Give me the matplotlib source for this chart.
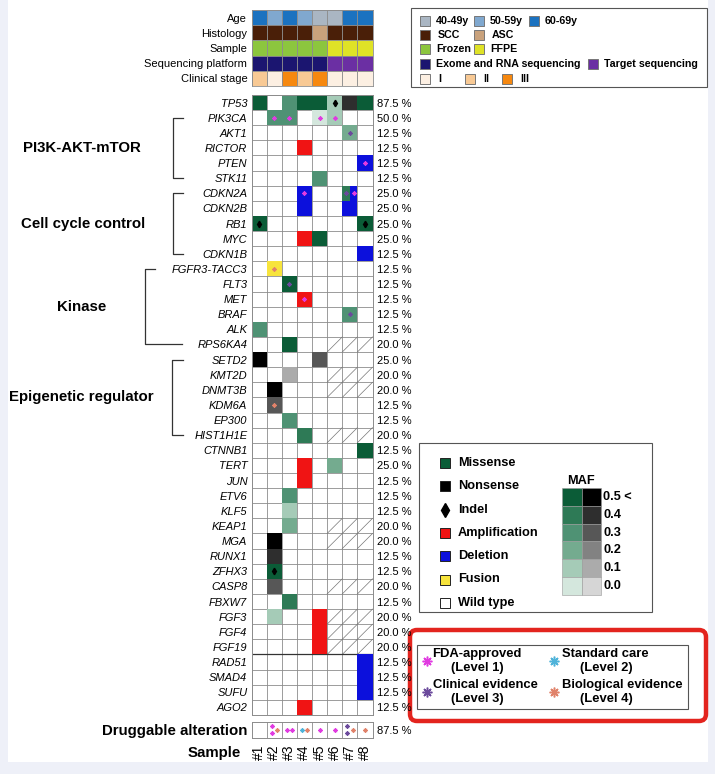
import numpy as np
import matplotlib
matplotlib.use('Agg')
import matplotlib.pyplot as plt
from matplotlib.patches import Rectangle, FancyBboxPatch
from collections import defaultdict

plt.rcParams['font.family'] = ['Liberation Sans', 'DejaVu Sans']

# ---- data ----
samples = ['#1', '#2', '#3', '#4', '#5', '#6', '#7', '#8']
age = ['60-69y', '50-59y', '60-69y', '50-59y', '40-49y', '40-49y', '60-69y', '60-69y']
histology = ['SCC', 'SCC', 'SCC', 'SCC', 'ASC', 'SCC', 'SCC', 'SCC']
sample_type = ['Frozen', 'Frozen', 'Frozen', 'Frozen', 'Frozen', 'FFPE', 'FFPE', 'FFPE']
platform = ['Exome and RNA sequencing'] * 5 + ['Target sequencing'] * 3
stage = ['II', 'I', 'III', 'II', 'III', 'I', 'I', 'I']
ann_names = ['Age', 'Histology', 'Sample', 'Sequencing platform', 'Clinical stage']

genes = ['TP53', 'PIK3CA', 'AKT1', 'RICTOR', 'PTEN', 'STK11', 'CDKN2A', 'CDKN2B', 'RB1',
         'MYC', 'CDKN1B', 'FGFR3-TACC3', 'FLT3', 'MET', 'BRAF', 'ALK', 'RPS6KA4', 'SETD2',
         'KMT2D', 'DNMT3B', 'KDM6A', 'EP300', 'HIST1H1E', 'CTNNB1', 'TERT', 'JUN', 'ETV6',
         'KLF5', 'KEAP1', 'MGA', 'RUNX1', 'ZFHX3', 'CASP8', 'FBXW7', 'FGF3', 'FGF4', 'FGF19',
         'RAD51', 'SMAD4', 'SUFU', 'AGO2']
freq = ['87.5', '50.0', '12.5', '12.5', '12.5', '12.5', '25.0', '25.0', '25.0', '25.0', '12.5',
        '12.5', '12.5', '12.5', '12.5', '12.5', '20.0', '25.0', '20.0', '20.0', '12.5', '12.5',
        '20.0', '12.5', '25.0', '12.5', '12.5', '12.5', '20.0', '20.0', '12.5', '12.5', '20.0',
        '12.5', '20.0', '20.0', '20.0', '12.5', '12.5', '12.5', '12.5']

# (gene, sample, kind, MAF, drug level)
alterations = [
    ('TP53', 1, 'mis', 0.5, 0), ('TP53', 3, 'mis', 0.3, 0), ('TP53', 4, 'mis', 0.5, 0),
    ('TP53', 5, 'mis', 0.5, 0), ('TP53', 6, 'indel', 0.1, 0), ('TP53', 7, 'non', 0.4, 0),
    ('TP53', 8, 'mis', 0.5, 0),
    ('PIK3CA', 2, 'mis', 0.3, 1), ('PIK3CA', 3, 'mis', 0.3, 1), ('PIK3CA', 5, 'mis', 0.0, 1),
    ('PIK3CA', 6, 'mis', 0.1, 1),
    ('AKT1', 7, 'mis', 0.2, 3), ('RICTOR', 4, 'amp', 0, 0), ('PTEN', 8, 'del', 0, 1),
    ('STK11', 5, 'mis', 0.3, 0),
    ('CDKN2A', 4, 'del', 0, 1), ('CDKN2A', 7, 'mis', 0.4, 3), ('CDKN2A', 7, 'del', 0, 1),
    ('CDKN2B', 4, 'del', 0, 0), ('CDKN2B', 7, 'del', 0, 0),
    ('RB1', 1, 'indel', 0.5, 0), ('RB1', 8, 'indel', 0.5, 0),
    ('MYC', 4, 'amp', 0, 0), ('MYC', 5, 'mis', 0.5, 0), ('CDKN1B', 8, 'del', 0, 0),
    ('FGFR3-TACC3', 2, 'fus', 0, 4), ('FLT3', 3, 'mis', 0.5, 3), ('MET', 4, 'amp', 0, 1),
    ('BRAF', 7, 'mis', 0.3, 3), ('ALK', 1, 'mis', 0.3, 0), ('RPS6KA4', 3, 'mis', 0.5, 0),
    ('SETD2', 1, 'non', 0.5, 0), ('SETD2', 5, 'non', 0.3, 0), ('KMT2D', 3, 'non', 0.1, 0),
    ('DNMT3B', 2, 'non', 0.5, 0), ('KDM6A', 2, 'non', 0.3, 4), ('EP300', 3, 'mis', 0.3, 0),
    ('HIST1H1E', 4, 'mis', 0.4, 0), ('CTNNB1', 8, 'mis', 0.5, 0),
    ('TERT', 4, 'amp', 0, 0), ('TERT', 6, 'mis', 0.2, 0), ('JUN', 4, 'amp', 0, 0),
    ('ETV6', 3, 'mis', 0.3, 0), ('KLF5', 3, 'mis', 0.1, 0), ('KEAP1', 3, 'mis', 0.2, 0),
    ('MGA', 2, 'non', 0.5, 0), ('RUNX1', 2, 'non', 0.4, 0), ('ZFHX3', 2, 'indel', 0.5, 0),
    ('CASP8', 2, 'non', 0.3, 0), ('FBXW7', 3, 'mis', 0.4, 0),
    ('FGF3', 2, 'mis', 0.1, 0), ('FGF3', 5, 'amp', 0, 0), ('FGF4', 5, 'amp', 0, 0),
    ('FGF19', 5, 'amp', 0, 0), ('RAD51', 8, 'del', 0, 0), ('SMAD4', 8, 'del', 0, 0),
    ('SUFU', 8, 'del', 0, 0), ('AGO2', 4, 'amp', 0, 0),
]
na_genes = ['RPS6KA4', 'KMT2D', 'DNMT3B', 'HIST1H1E', 'KEAP1', 'MGA', 'CASP8', 'FGF3', 'FGF4', 'FGF19']
na_samples = [6, 7, 8]

drug_levels = [[], [1, 1, 4], [1, 1], [2, 4], [1], [1], [3, 3, 4], [4]]
drug_freq = '87.5'

maf_ticks = ['0.5 <', '0.4', '0.3', '0.2', '0.1', '0.0']

# ---- colours ----
ann_colors = {
    '40-49y': '#aab6c3', '50-59y': '#80a8cf', '60-69y': '#1b72c0',
    'SCC': '#4a1f08', 'ASC': '#c9a27c',
    'Frozen': '#8cc63e', 'FFPE': '#dfe226',
    'Exome and RNA sequencing': '#1b1570', 'Target sequencing': '#6b2fa3',
    'I': '#fcefe2', 'II': '#f8c994', 'III': '#f6880f',
}
green_maf = ['#d4e7dd', '#a5cbb7', '#74ab8f', '#4f9274', '#2e7a56', '#0b5c37']
gray_maf = ['#d6d6d6', '#ababab', '#828282', '#575757', '#2e2e2e', '#000000']
kind_colors = {'amp': '#f01414', 'del': '#0c10dc', 'fus': '#f7e43c'}
level_colors = {1: '#e03be0', 2: '#4fb3d9', 3: '#6b4a9c', 4: '#e0826a'}
grid_c = '#8c8c8c'


def cell_color(kind, maf):
    if kind in kind_colors:
        return kind_colors[kind]
    idx = min(int(round(maf * 10)), 5)
    return gray_maf[idx] if kind == 'non' else green_maf[idx]


# ---- layout (pixels) ----
W, H = 715, 774
GX0, GX1 = 251.5, 372.5
ANN_Y0, ANN_Y1 = 10, 86
GENE_Y0, ROW_H = 95, 15.12
DRUG_Y0, DRUG_Y1 = 722, 737.5


def frac(x0, y0, x1, y1):
    return [x0 / W, 1 - y1 / H, (x1 - x0) / W, (y1 - y0) / H]


def row_y(g):
    return GENE_Y0 + (genes.index(g) + 0.5) * ROW_H


fig = plt.figure(figsize=(W / 100, H / 100), dpi=100)
fig.patch.set_facecolor('#eef0f8')
ov = fig.add_axes([0, 0, 1, 1])
ov.set_xlim(0, W)
ov.set_ylim(H, 0)
ov.axis('off')
ov.add_patch(Rectangle((8, 0), 700, 762, fc='white', ec='none', zorder=0))

# ---- annotation tracks ----
ax_a = fig.add_axes(frac(GX0, ANN_Y0, GX1, ANN_Y1))
ax_a.set_xlim(0, 8)
ax_a.set_ylim(5, 0)
for r, track in enumerate([age, histology, sample_type, platform, stage]):
    for c, v in enumerate(track):
        ax_a.add_patch(Rectangle((c, r), 1, 1, fc=ann_colors[v], ec=grid_c, lw=0.6))
ax_a.set_xticks([])
ax_a.set_yticks(np.arange(5) + 0.5)
ax_a.set_yticklabels(ann_names, fontsize=8)
ax_a.tick_params(length=0, pad=3)
for s in ax_a.spines.values():
    s.set_color(grid_c)
    s.set_linewidth(0.6)

# ---- main oncoprint ----
n = len(genes)
ax = fig.add_axes(frac(GX0, GENE_Y0, GX1, GENE_Y0 + n * ROW_H))
ax.set_xlim(0, 8)
ax.set_ylim(n, 0)
for v in range(9):
    ax.axvline(v, color=grid_c, lw=0.6, zorder=1)
for h in range(n + 1):
    ax.axhline(h, color=grid_c, lw=0.6, zorder=1)
ax.axhline(genes.index('RAD51'), color='#333333', lw=0.9, zorder=1.5)

for g in na_genes:
    r = genes.index(g)
    for s in na_samples:
        ax.plot([s - 1, s], [r + 1, r], color='#777777', lw=0.5, zorder=1)

cells = defaultdict(list)
for g, s, kind, maf, lvl in alterations:
    cells[(g, s)].append((kind, maf, lvl))
for (g, s), items in cells.items():
    r = genes.index(g)
    w = 1 / len(items)
    for k, (kind, maf, lvl) in enumerate(items):
        x = s - 1 + k * w
        ax.add_patch(Rectangle((x, r), w, 1, fc=cell_color(kind, maf), ec='none', zorder=2))
        if kind == 'indel':
            ax.plot(x + w / 2, r + 0.5, marker='d', color='black', ms=3.3, zorder=3)
        if lvl:
            ax.plot(x + w / 2, r + 0.5, marker=(8, 2, 0), color=level_colors[lvl],
                    ms=3.2, mew=0.6, zorder=3)

ax.set_xticks([])
ax.set_yticks(np.arange(n) + 0.5)
ax.set_yticklabels(genes, fontsize=8, style='italic')
ax.tick_params(length=0, pad=3)
axr = ax.twinx()
axr.set_ylim(n, 0)
axr.set_yticks(np.arange(n) + 0.5)
axr.set_yticklabels([f + ' %' for f in freq], fontsize=8)
axr.tick_params(length=0, pad=3.5)
for a in (ax, axr):
    for s in a.spines.values():
        s.set_color(grid_c)
        s.set_linewidth(0.6)

# ---- druggable alteration row ----
ax_d = fig.add_axes(frac(GX0, DRUG_Y0, GX1, DRUG_Y1))
ax_d.set_xlim(0, 8)
ax_d.set_ylim(1, 0)
for v in range(1, 8):
    ax_d.axvline(v, color=grid_c, lw=0.6)
offsets = {1: [(0.5, 0.5)], 2: [(0.33, 0.5), (0.7, 0.5)],
           3: [(0.33, 0.28), (0.33, 0.72), (0.7, 0.5)]}
for c, lv in enumerate(drug_levels):
    for (dx, dy), l in zip(offsets.get(len(lv), []), lv):
        ax_d.plot(c + dx, dy, marker=(8, 2, 0), color=level_colors[l], ms=3.3, mew=0.6)
ax_d.set_xticks(np.arange(8) + 0.5)
ax_d.set_xticklabels(samples, rotation=90, fontsize=10)
ax_d.set_yticks([0.5])
ax_d.set_yticklabels(['Druggable alteration'], fontsize=10.8, fontweight='bold')
ax_d.tick_params(axis='y', length=0, pad=3)
ax_d.tick_params(axis='x', length=0, pad=5)
axdr = ax_d.twinx()
axdr.set_ylim(1, 0)
axdr.set_yticks([0.5])
axdr.set_yticklabels([drug_freq + ' %'], fontsize=8)
axdr.tick_params(length=0, pad=3.5)
for a in (ax_d, axdr):
    for s in a.spines.values():
        s.set_color(grid_c)
        s.set_linewidth(0.6)
ov.text(241, 753, 'Sample', ha='right', va='center', fontsize=10.8, fontweight='bold')

# ---- pathway brackets ----
groups = [('PI3K-AKT-mTOR', 'PIK3CA', 'STK11', 173, 183, 183, 82),
          ('Cell cycle control', 'CDKN2A', 'CDKN1B', 173, 183, 183, 83),
          ('Kinase', 'FGFR3-TACC3', 'RPS6KA4', 145, 155, 182, 82),
          ('Epigenetic regulator', 'SETD2', 'HIST1H1E', 172, 183, 183, 81)]
for name, g0, g1, xv, xt0, xt1, xl in groups:
    y0, y1 = row_y(g0), row_y(g1)
    ov.plot([xt0, xv, xv, xt1], [y0, y0, y1, y1], color='#333333', lw=0.9)
    ov.text(xl, (y0 + y1) / 2, name, ha='center', va='center', fontsize=10.8, fontweight='bold')

# ---- legend 1: clinical annotations ----
ov.add_patch(Rectangle((411, 8), 296, 79, fc='white', ec='#555555', lw=0.8))
leg1 = [(21, [('40-49y', 420), ('50-59y', 474), ('60-69y', 529)]),
        (35, [('SCC', 420), ('ASC', 474)]),
        (49, [('Frozen', 420), ('FFPE', 474)]),
        (64, [('Exome and RNA sequencing', 420), ('Target sequencing', 588)]),
        (79, [('I', 420), ('II', 465), ('III', 502)])]
for y, items in leg1:
    for lab, x in items:
        ov.add_patch(Rectangle((x, y - 5), 10, 10, fc=ann_colors[lab], ec='#777777', lw=0.7))
        ov.text(x + 16 if len(lab) > 3 else x + 18, y, lab, ha='left', va='center',
                fontsize=7.7, fontweight='bold')

# ---- legend 2: alteration types + MAF ----
ov.add_patch(Rectangle((419, 443), 233, 169, fc='white', ec='#555555', lw=0.8))
leg2 = [('Missense', green_maf[5]), ('Nonsense', '#000000'), ('Indel', None),
        ('Amplification', kind_colors['amp']), ('Deletion', kind_colors['del']),
        ('Fusion', kind_colors['fus']), ('Wild type', 'white')]
for i, (lab, col) in enumerate(leg2):
    y = 463 + i * 23.3
    if col is None:
        ov.plot(445, y, marker='d', color='black', ms=7)
    else:
        ov.add_patch(Rectangle((440, y - 5), 10, 10, fc=col, ec='#222222', lw=0.7))
    ov.text(458, y, lab, ha='left', va='center', fontsize=9.2, fontweight='bold')

ov.text(581, 481, 'MAF', ha='center', va='center', fontsize=9.2, fontweight='bold')
for i, lab in enumerate(maf_ticks):
    y = 488 + i * 17.8
    ov.add_patch(Rectangle((562, y), 19.5, 17.8, fc=green_maf[5 - i], ec='#999999', lw=0.4))
    ov.add_patch(Rectangle((581.5, y), 19.5, 17.8, fc=gray_maf[5 - i], ec='#999999', lw=0.4))
    ov.text(603, y + 9, lab, ha='left', va='center', fontsize=9.2, fontweight='bold')

# ---- legend 3: evidence levels ----
ov.add_patch(FancyBboxPatch((410, 630), 296, 91, boxstyle='round,pad=0,rounding_size=7',
                            fc='white', ec='#e3241e', lw=3.2))
ov.add_patch(Rectangle((417, 645), 271, 64, fc='white', ec='#555555', lw=0.8))
leg3 = [(1, 'FDA-approved', 427, 432, 477, 654),
        (2, 'Standard care', 554, 562, 606, 654),
        (3, 'Clinical evidence', 427, 433, 477, 685),
        (4, 'Biological evidence', 554, 562, 606, 685)]
for lvl, lab, xs, xt, xc, y in leg3:
    ov.plot(xs, y + 7, marker=(8, 2, 0), color=level_colors[lvl], ms=7, mew=1.1)
    ov.text(xt, y, lab, ha='left', va='center', fontsize=9.4, fontweight='bold')
    ov.text(xc, y + 14, '(Level %d)' % lvl, ha='center', va='center', fontsize=9.4,
            fontweight='bold')

fig.savefig('out.png', dpi=100, facecolor=fig.get_facecolor())
